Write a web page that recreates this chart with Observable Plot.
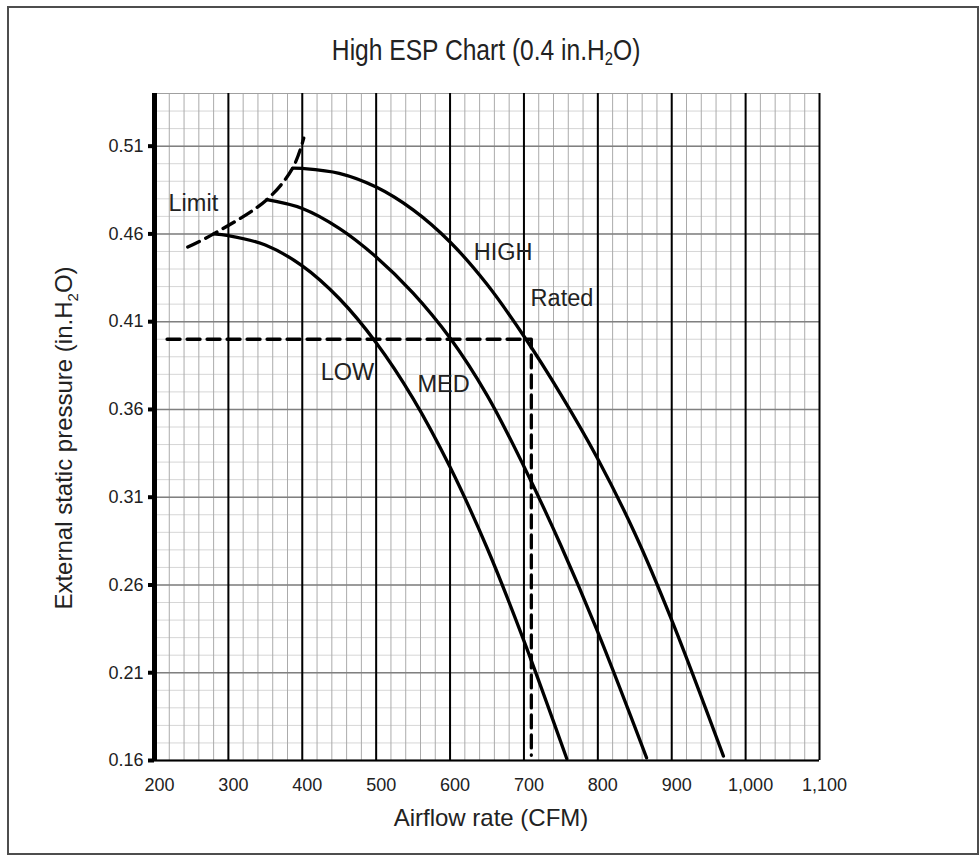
<!DOCTYPE html>
<html><head><meta charset="utf-8">
<script src="https://cdn.jsdelivr.net/npm/d3@7"></script>
<script src="https://cdn.jsdelivr.net/npm/@observablehq/plot@0.6"></script>
<style>
body{margin:0;background:#fff;font-family:"Liberation Sans",Arial,sans-serif;}
#frame{position:absolute;left:7px;top:6px;width:968px;height:845px;border:2px solid #4d4d4d;}
#title{position:absolute;left:154px;width:665px;top:35px;text-align:center;font-size:30px;line-height:30px;color:#222;white-space:nowrap;}
#title span{display:inline-block;transform:scaleX(0.82);}
#title sub{font-size:0.6em;vertical-align:-0.3em;line-height:0;}
#chart{position:absolute;left:0;top:80px;}
</style></head><body>
<div id="frame"></div>
<div id="title"><span>High ESP Chart (0.4 in.H<sub>2</sub>O)</span></div>
<div id="chart"></div>
<script>
const xTicks = [200,300,400,500,600,700,800,900,1000,1100];
const yTicks = [0.16,0.21,0.26,0.31,0.36,0.41,0.46,0.51];

const lowCfm  = [280,300,350,400,450,500,550,600,650,700,758];
const lowEsp  = [0.4600,0.4590,0.4537,0.4418,0.4232,0.3980,0.3662,0.3272,0.2812,0.2282,0.1610];
const medCfm  = [352,400,450,500,550,600,650,700,750,800,866];
const medEsp  = [0.4795,0.4745,0.4632,0.4469,0.4263,0.4007,0.3682,0.3275,0.2825,0.2331,0.1615];
const highCfm = [387,400,450,500,550,600,650,700,750,800,850,900,970];
const highEsp = [0.4975,0.4973,0.4945,0.4867,0.4737,0.4554,0.4313,0.4017,0.3685,0.3318,0.2895,0.2400,0.1625];
const limitCfm = [245,280,352,387,402];
const limitEsp = [0.4525,0.4600,0.4795,0.4975,0.5146];
const ratedCfm = [217,710,710];
const ratedEsp = [0.40,0.40,0.163];

const labelText = ["Limit","HIGH","Rated","LOW","MED"];
const labelCfm  = [219,632,709,425,556];
const labelEsp  = [0.4776,0.4496,0.4234,0.3812,0.3744];

const pts = (xs, ys) => xs.map((x,i)=>({x, y: ys[i]}));
const labels = labelText.map((t,i)=>({t, x: labelCfm[i], y: labelEsp[i]}));

const minorX = d3.range(200, 1101, 20);
const minorY = d3.range(16, 55).map(d => d/100);

const FONT = "'Liberation Sans', Arial, sans-serif";
const curveStyle = {x:"x", y:"y", stroke:"#000", strokeWidth:3.3, curve:"catmull-rom"};

const chart = Plot.plot({
  width: 979, height: 760,
  marginLeft: 154, marginRight: 160, marginTop: 13, marginBottom: 80,
  x: {domain: [200, 1100]},
  y: {domain: [0.16, 0.54]},
  style: {background: "transparent", fontFamily: FONT, color: "#222"},
  marks: [
    Plot.ruleY(minorY, {stroke: "#d6d6d6", strokeWidth: 1}),
    Plot.ruleX(minorX, {stroke: "#ababab", strokeWidth: 1}),
    Plot.ruleY(yTicks, {stroke: "#808080", strokeWidth: 1.5}),
    Plot.ruleY([0.54], {stroke: "#a0a0a0", strokeWidth: 1}),
    Plot.ruleX(xTicks.slice(1), {stroke: "#000", strokeWidth: 2}),
    Plot.ruleY([0.16], {stroke: "#000", strokeWidth: 2}),
    Plot.ruleX([200], {stroke: "#000", strokeWidth: 5}),
    Plot.axisY({ticks: yTicks, tickFormat: d => d.toFixed(2), tickSize: 6, tickPadding: 5,
                stroke: "#000", strokeWidth: 4, fontSize: 18, label: null}),
    Plot.axisX({ticks: xTicks, tickFormat: d3.format(","), tickSize: 0, tickPadding: 18,
                fontSize: 18, dx: 5, label: null}),
    Plot.line(pts(lowCfm, lowEsp), curveStyle),
    Plot.line(pts(medCfm, medEsp), curveStyle),
    Plot.line(pts(highCfm, highEsp), curveStyle),
    Plot.line(pts(limitCfm, limitEsp), {...curveStyle, strokeDasharray: "13,7"}),
    Plot.line(pts(ratedCfm, ratedEsp), {x:"x", y:"y", stroke:"#000", strokeWidth:3.3, strokeDasharray: "13,7"}),
    Plot.text(labels, {x: "x", y: "y", text: "t", textAnchor: "start", fontSize: 23.5, fill: "#222"})
  ]
});
document.getElementById("chart").appendChild(chart);

const svg = d3.select(chart);
const xl = svg.append("text")
  .attr("x", 491).attr("y", 746)
  .attr("text-anchor", "middle")
  .attr("font-family", FONT).attr("font-size", 24).attr("fill", "#222");
xl.text("Airflow rate (CFM)");

const yl = svg.append("text")
  .attr("transform", "translate(72,358) rotate(-90)")
  .attr("text-anchor", "middle")
  .attr("font-family", FONT).attr("font-size", 24).attr("fill", "#222");
yl.append("tspan").text("External static pressure (in.H");
yl.append("tspan").attr("font-size", 15).attr("dy", 6).text("2");
yl.append("tspan").attr("dy", -6).text("O)");
</script>
</body></html>
